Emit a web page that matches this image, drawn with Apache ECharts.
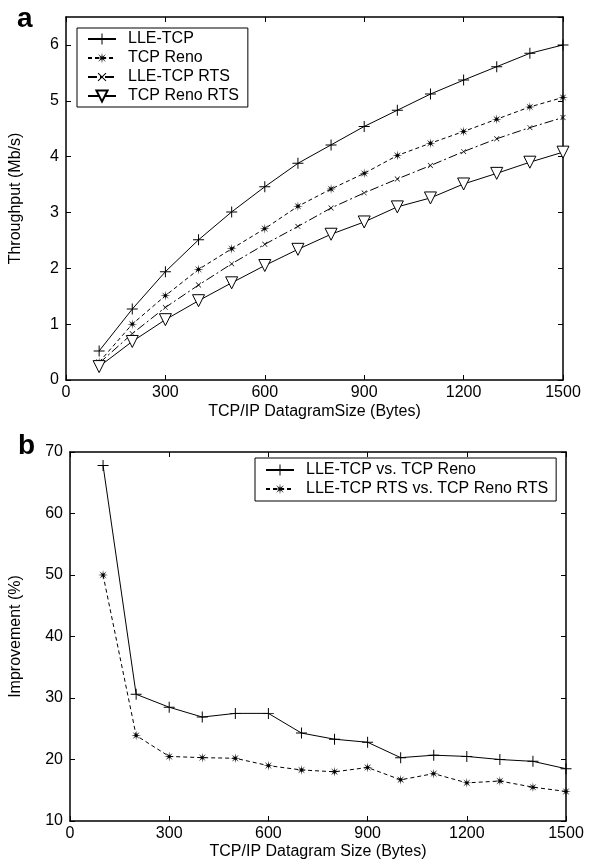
<!DOCTYPE html>
<html>
<head>
<meta charset="utf-8">
<script src="https://cdn.jsdelivr.net/npm/echarts@6/dist/echarts.min.js"></script>
<style>
html,body{margin:0;padding:0;background:#fff;}
#c{width:594px;height:865px;}
</style>
</head>
<body>
<div id="c"></div>
<script>
// ---- data ----
const sizes = [100,200,300,400,500,600,700,800,900,1000,1100,1200,1300,1400,1500];
const lleTcp     = [0.52,1.27,1.94,2.51,3.01,3.46,3.88,4.21,4.54,4.83,5.12,5.37,5.61,5.85,6.00];
const tcpReno    = [0.32,1.00,1.51,1.98,2.35,2.71,3.11,3.42,3.70,4.02,4.24,4.45,4.67,4.89,5.06];
const lleTcpRts  = [0.30,0.83,1.30,1.70,2.08,2.43,2.75,3.08,3.35,3.60,3.84,4.09,4.32,4.52,4.70];
const tcpRenoRts = [0.24,0.69,1.08,1.42,1.74,2.05,2.34,2.61,2.83,3.10,3.26,3.51,3.70,3.90,4.08];
const impLle     = [67.8,30.6,28.5,26.9,27.5,27.5,24.3,23.3,22.8,20.3,20.7,20.5,20.0,19.7,18.5];
const impRts     = [50.0,23.9,20.5,20.3,20.2,19.0,18.3,18.0,18.7,16.7,17.7,16.2,16.5,15.5,14.8];
const topNames = ['LLE-TCP','TCP Reno','LLE-TCP RTS','TCP Reno RTS'];
const botNames = ['LLE-TCP vs. TCP Reno','LLE-TCP RTS vs. TCP Reno RTS'];

// ---- marker shapes ----
const plusPath = 'path://M-0.09,-1H0.09V-0.09H1V0.09H0.09V1H-0.09V0.09H-1V-0.09H-0.09Z';
function starPath(){
  let s = 'path://';
  for (let k = 0; k < 16; k++) {
    const a = k * Math.PI / 8;
    const r = (k % 2 === 0) ? 1 : 0.26;
    s += (k === 0 ? 'M' : 'L') + (r*Math.cos(a)).toFixed(3) + ',' + (r*Math.sin(a)).toFixed(3);
  }
  return s + 'Z';
}
const astPath = starPath();

const FONT = '"Liberation Sans", Arial, Helvetica, sans-serif';
const BLACK = '#000';
const FS = 16;
const pair = (vals) => sizes.map((x, i) => [x, vals[i]]);

function xAxes(gridIndex, name, gap) {
  const base = {
    type: 'value', gridIndex, min: 0, max: 1500, interval: 300,
    axisLine: {show: true, onZero: false, lineStyle: {color: BLACK, width: 1.5}},
    axisTick: {show: true, inside: true, length: 5, lineStyle: {color: BLACK}},
    splitLine: {show: false}
  };
  return [
    Object.assign({}, base, {
      position: 'bottom', name, nameLocation: 'middle', nameGap: gap,
      nameTextStyle: {color: BLACK, fontSize: FS, fontFamily: FONT},
      axisLabel: {color: BLACK, fontSize: FS, fontFamily: FONT, margin: 5, formatter: (v) => String(v)}
    }),
    Object.assign({}, base, {position: 'top', axisLabel: {show: false}})
  ];
}
function yAxes(gridIndex, name, gap, min, max, interval, hideMax) {
  const base = {
    type: 'value', gridIndex, min, max, interval,
    axisLine: {show: true, onZero: false, lineStyle: {color: BLACK, width: 1.5}},
    axisTick: {show: true, inside: true, length: 5, lineStyle: {color: BLACK}},
    splitLine: {show: false}
  };
  return [
    Object.assign({}, base, {
      position: 'left', name, nameLocation: 'middle', nameGap: gap,
      nameTextStyle: {color: BLACK, fontSize: FS, fontFamily: FONT},
      axisLabel: {color: BLACK, fontSize: FS, fontFamily: FONT, margin: 7, showMaxLabel: !hideMax}
    }),
    Object.assign({}, base, {position: 'right', axisLabel: {show: false}})
  ];
}

function lineSeries(name, xi, yi, vals, symbol, size, dash, opts) {
  const s = {
    type: 'line', name, xAxisIndex: xi, yAxisIndex: yi, data: pair(vals),
    symbol, symbolSize: size, showAllSymbol: true,
    lineStyle: {color: BLACK, width: 1, type: dash},
    itemStyle: {color: BLACK, borderWidth: 0},
    emphasis: {disabled: true}, silent: true
  };
  return Object.assign(s, opts || {});
}

const legendBase = {
  orient: 'vertical', itemGap: 3, itemWidth: 28, itemHeight: 14,
  borderColor: BLACK, borderWidth: 1, backgroundColor: '#fff', selectedMode: false,
  textStyle: {color: BLACK, fontSize: FS, fontFamily: FONT, padding: [0, 0, 0, 7]}
};

const option = {
  animation: false,
  backgroundColor: '#fff',
  textStyle: {fontFamily: FONT, color: BLACK},
  title: [
    {text: 'a', left: 12, top: 0, textStyle: {fontSize: 28, fontWeight: 'bold', color: BLACK, fontFamily: FONT}},
    {text: 'b', left: 13, top: 427, textStyle: {fontSize: 28, fontWeight: 'bold', color: BLACK, fontFamily: FONT}}
  ],
  grid: [
    {left: 60, top: 17, width: 503, height: 363},
    {left: 68, top: 452, width: 498, height: 369}
  ],
  xAxis: [].concat(xAxes(0, 'TCP/IP DatagramSize (Bytes)', 24), xAxes(1, 'TCP/IP Datagram Size (Bytes)', 23)),
  yAxis: [].concat(yAxes(0, 'Throughput (Mb/s)', 42, 0, 6.5, 1, true), yAxes(1, 'Improvement (%)', 46, 10, 70, 10, false)),
  legend: [
    Object.assign({}, legendBase, {data: topNames, left: 77, top: 28, padding: [3, 9, 3, 10]}),
    Object.assign({}, legendBase, {data: botNames, left: 255, top: 458, padding: [4, 8, 4, 10]})
  ],
  series: [
    lineSeries(topNames[0], 0, 0, lleTcp, plusPath, 11, 'solid'),
    lineSeries(topNames[1], 0, 0, tcpReno, astPath, 10, [4, 3]),
    lineSeries(topNames[2], 0, 0, lleTcpRts, plusPath, 7, [9, 3, 2, 3], {symbolRotate: 45}),
    lineSeries(topNames[3], 0, 0, tcpRenoRts, 'triangle', 12, 'solid',
      {symbolRotate: 180, itemStyle: {color: '#fff', borderColor: BLACK, borderWidth: 1}}),
    lineSeries(botNames[0], 2, 2, impLle, plusPath, 11, 'solid'),
    lineSeries(botNames[1], 2, 2, impRts, astPath, 10, [4, 3])
  ]
};

const chart = echarts.init(document.getElementById('c'), null, {renderer: 'canvas'});
chart.setOption(option);
</script>
</body>
</html>
